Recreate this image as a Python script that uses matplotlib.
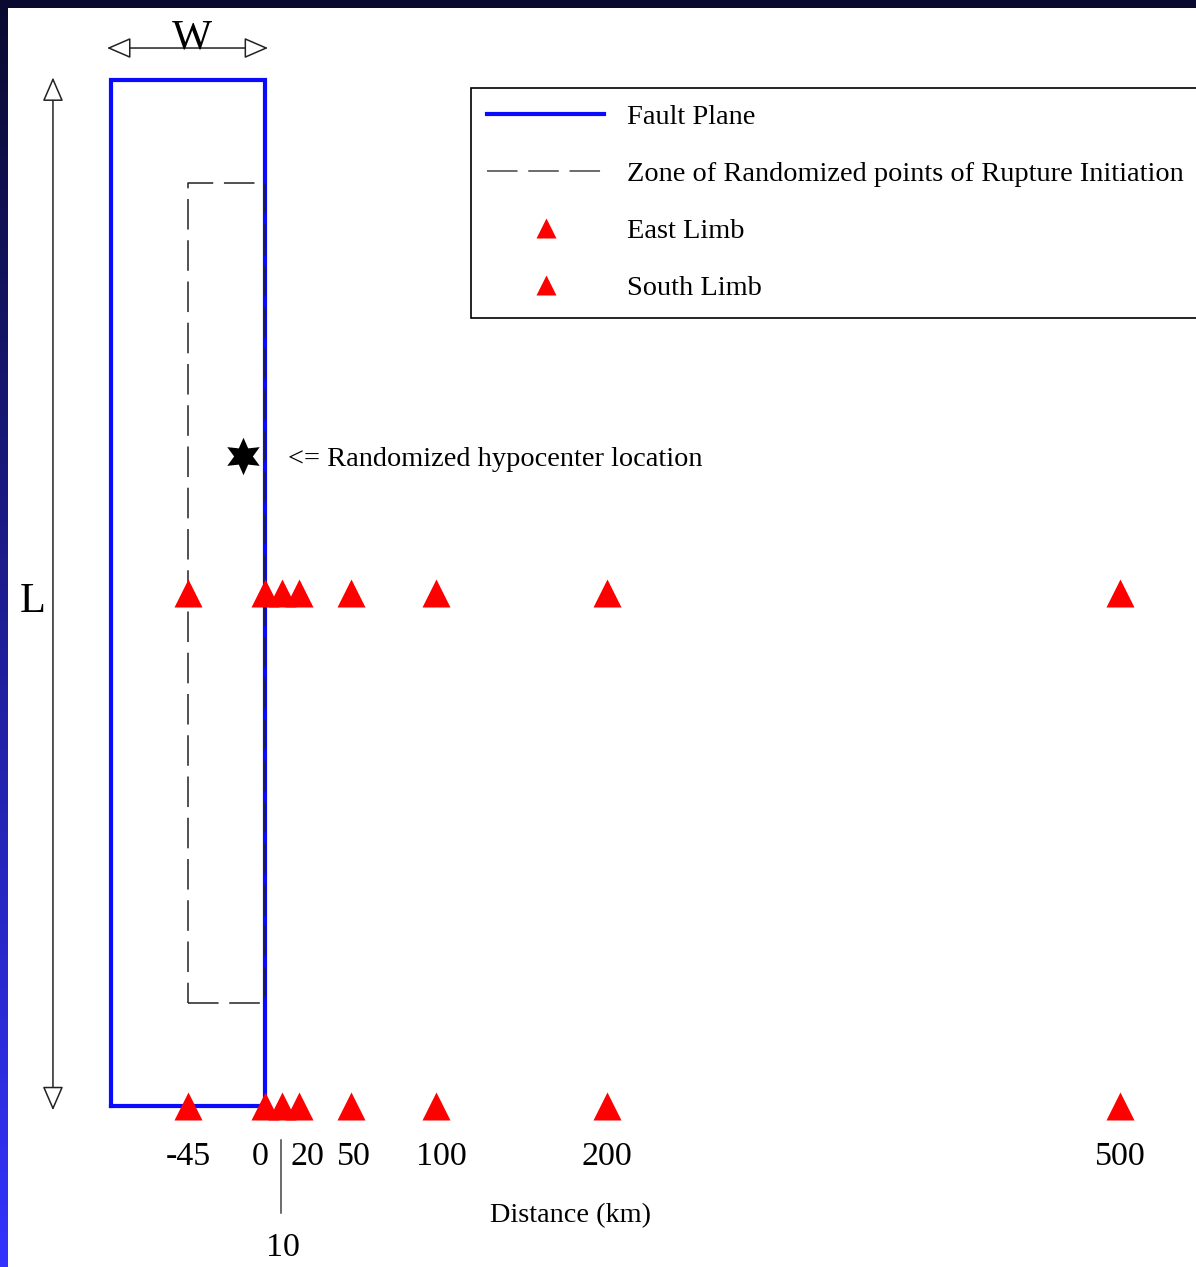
import numpy as np
import matplotlib
matplotlib.use('Agg')
import matplotlib.pyplot as plt
from matplotlib.patches import Rectangle, FancyArrowPatch
from matplotlib.lines import Line2D

plt.rcParams['font.family'] = ['Liberation Serif', 'DejaVu Serif']

#--------------------------------------------------------------------------------------------------------#
# Data (km)
#--------------------------------------------------------------------------------------------------------#
fault_x = [-90, 0, 0, -90, -90]
fault_y = [0, 0, 600, 600, 0]
zone_x = [-45, 0, 0, -45, -45]
zone_y = [60, 60, 540, 540, 60]
hypo_x = -13
hypo_y = 380
station_dist = [-45, 0, 10, 20, 50, 100, 200, 500]
east_row = 300
south_row = 0
tick_vals = [-45, 0, 20, 50, 100, 200, 500]
tick_labels = ['-45', '0', '20', '50', '100', '200', '500']

#--------------------------------------------------------------------------------------------------------#
# Layout: pixel -> km mapping (1.71 px per km, x=0 at px 265, y=0 at px 1106)
#--------------------------------------------------------------------------------------------------------#
W, H = 1196, 1267
s = 1.71
xlim = (-265 / s, (W - 265) / s)
ylim = ((1106 - H) / s, 1106 / s)
label_shift = {0: -3, 20: 5, 50: 2, 100: 3}

fig = plt.figure(figsize=(W / 100, H / 100), dpi=100)
ax = fig.add_axes([0, 0, 1, 1])
ax.axis('off')

# background: navy -> blue gradient frame with white page
t = np.linspace(0, 1, 256)[:, None]
top = np.array([10, 10, 48]) / 255
bot = np.array([51, 51, 255]) / 255
grad = (top + (bot - top) * t[..., None]).reshape(256, 1, 3)
ax.imshow(grad, extent=(xlim[0], xlim[1], ylim[0], ylim[1]), aspect='auto', zorder=0)
x_page = (8 - 265) / s
ax.add_patch(Rectangle((x_page, ylim[0] - 5), xlim[1] - x_page + 10, (1106 - 8) / s - ylim[0] + 5,
                       facecolor='white', edgecolor='none', zorder=0.5))

# fault plane + randomized zone
ax.plot(fault_x, fault_y, color='#0a0aff', lw=3, solid_joinstyle='miter', zorder=2)
ax.plot(zone_x, zone_y, color='#222222', lw=1.1, linestyle=(0, (20, 7)), zorder=3)

# stations
ax.plot(station_dist, [east_row] * len(station_dist), '^', color='red', ms=20, mec='none', zorder=4)
ax.plot(station_dist, [south_row] * len(station_dist), '^', color='red', ms=20, mec='none', zorder=4)

# hypocenter
ax.plot(hypo_x, hypo_y, marker=(6, 1, 0), color='black', ms=27, mec='none', zorder=5)
ax.text(13.5, hypo_y - 2, '<= Randomized hypocenter location', fontsize=20.4, va='center', ha='left')

# W and L dimension arrows
arr = dict(arrowstyle='<|-|>,head_length=1.5,head_width=0.65', mutation_scale=10,
           facecolor='white', edgecolor='#222222', lw=1.1, shrinkA=0, shrinkB=0, zorder=3)
ax.add_patch(FancyArrowPatch((-92.4, 618.7), (1.8, 618.7), **arr))
ax.add_patch(FancyArrowPatch((-124, 601.5), (-124, -2.5), **arr))
ax.text(-42.7, 618.3, 'W', fontsize=30.5, ha='center', va='baseline')
ax.text(-135.7, 289, 'L', fontsize=30.5, ha='center', va='baseline')

# distance labels
for v, lab in zip(tick_vals, tick_labels):
    ax.text(v + label_shift.get(v, 0), -34.4, lab, fontsize=24.5, ha='center', va='baseline')
ax.plot([9.5, 9.5], [-20, -62.5], color='#444444', lw=1.1)
ax.text(10.5, -87.5, '10', fontsize=24.5, ha='center', va='baseline')
ax.text(178.4, -67.8, 'Distance (km)', fontsize=20.3, ha='center', va='baseline')

# legend
handles = [Line2D([], [], color='#0a0aff', lw=3),
           Line2D([], [], color='#444444', lw=1.1, linestyle=(0, (20, 7))),
           Line2D([], [], ls='none', marker='^', color='red', ms=15, mec='none'),
           Line2D([], [], ls='none', marker='^', color='red', ms=15, mec='none')]
labels = ['Fault Plane', 'Zone of Randomized points of Rupture Initiation', 'East Limb', 'South Limb']
leg = ax.legend(handles, labels, loc='upper left', bbox_to_anchor=(471 / W, 1 - 88 / H),
                fontsize=20.4, frameon=True, fancybox=False, framealpha=1, edgecolor='black',
                handlelength=4.13, handletextpad=0.78, labelspacing=1.1, borderpad=0.58,
                borderaxespad=0, numpoints=1)
leg.get_frame().set_linewidth(1.2)
leg.set_zorder(6)

ax.set_xlim(xlim)
ax.set_ylim(ylim)
fig.savefig('out.png', dpi=100)
